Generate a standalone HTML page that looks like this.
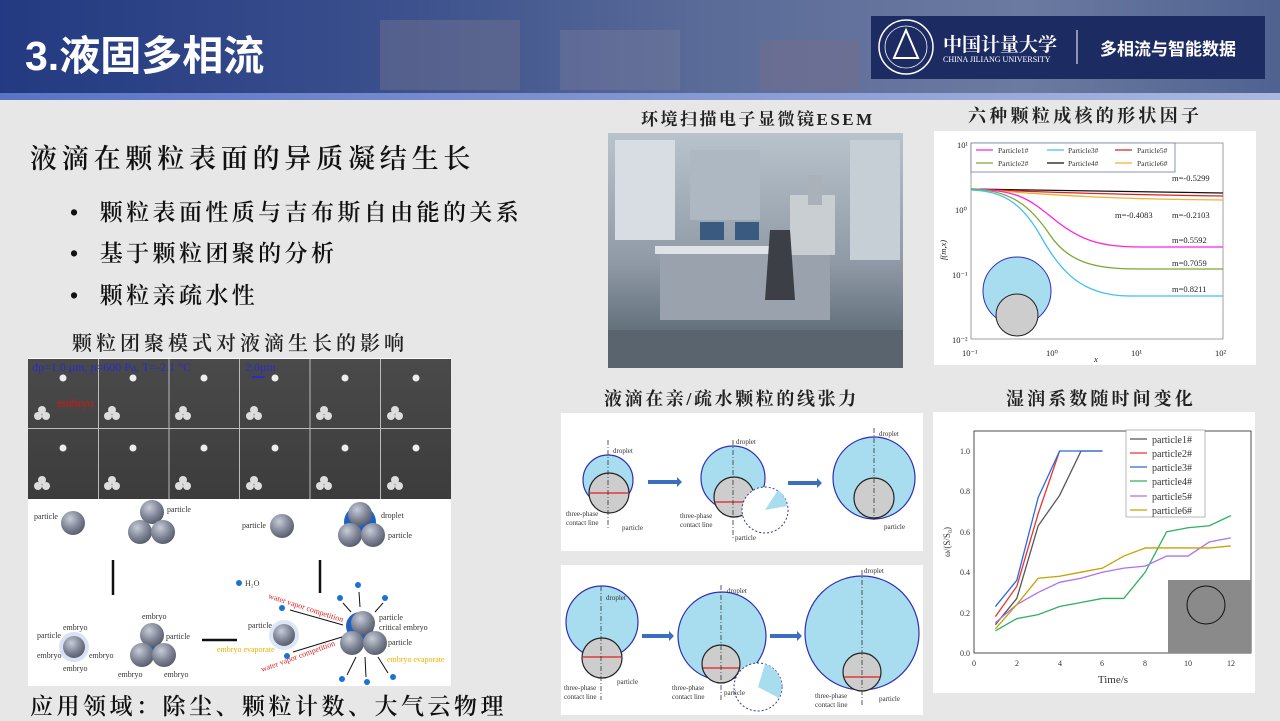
<!DOCTYPE html>
<html><head><meta charset="utf-8">
<style>
body{margin:0;width:1280px;height:720px;overflow:hidden;background:#e7e7e7;font-family:"Liberation Serif","Noto Serif CJK SC",serif;}
.a{position:absolute;white-space:nowrap}
.b{font-weight:600}
</style></head><body>
<svg width="1280" height="720" viewBox="0 0 1280 720" style="position:absolute;left:0;top:0" font-family="Liberation Serif, Noto Serif CJK SC, serif">
<defs>
<linearGradient id="hd" x1="0" x2="1" y1="0" y2="0">
<stop offset="0" stop-color="#233a82"/><stop offset="0.3" stop-color="#3a4f8c"/><stop offset="0.55" stop-color="#5a6b98"/><stop offset="0.8" stop-color="#6b7aa0"/><stop offset="1" stop-color="#4f6290"/></linearGradient>
<linearGradient id="st" x1="0" x2="1"><stop offset="0" stop-color="#5a74c4"/><stop offset="1" stop-color="#aab8e0"/></linearGradient>
<radialGradient id="sp" cx="0.38" cy="0.32" r="0.7"><stop offset="0" stop-color="#c8ccd8"/><stop offset="0.6" stop-color="#7f8596"/><stop offset="1" stop-color="#585d6c"/></radialGradient>
<linearGradient id="sem" x1="0" x2="0" y1="0" y2="1"><stop offset="0" stop-color="#4a4a4a"/><stop offset="1" stop-color="#3c3c3c"/></linearGradient>
<linearGradient id="room" x1="0" x2="0" y1="0" y2="1"><stop offset="0" stop-color="#b9c3cc"/><stop offset="0.55" stop-color="#8f9aa6"/><stop offset="1" stop-color="#4d5a66"/></linearGradient>
</defs>
<rect x="0" y="0" width="1280" height="93" fill="url(#hd)"/>
<rect x="380" y="20" width="140" height="70" fill="#6d6f8e" opacity="0.5"/>
<rect x="560" y="30" width="120" height="60" fill="#7a7d9c" opacity="0.4"/>
<rect x="760" y="40" width="100" height="50" fill="#7b6f88" opacity="0.4"/>
<rect x="0" y="93" width="1280" height="7" fill="url(#st)"/>
<rect x="871" y="16" width="394" height="63" fill="#1d2b63"/>
<circle cx="906" cy="47" r="27" fill="none" stroke="#fff" stroke-width="1.5"/>
<circle cx="906" cy="47" r="21" fill="none" stroke="#fff" stroke-width="0.8"/>
<path d="M906 30 L918 58 L894 58 Z" fill="none" stroke="#fff" stroke-width="2"/>
<line x1="1077" y1="30" x2="1077" y2="64" stroke="#fff" stroke-width="1"/>
<rect x="28" y="358" width="423" height="328" fill="#fff"/>
<rect x="28" y="359" width="423" height="140" fill="url(#sem)"/>
<g stroke="#bbb" stroke-width="1">
<line x1="98.5" y1="359" x2="98.5" y2="499"/><line x1="169" y1="359" x2="169" y2="499"/><line x1="239.5" y1="359" x2="239.5" y2="499"/><line x1="310" y1="359" x2="310" y2="499"/><line x1="380.5" y1="359" x2="380.5" y2="499"/><line x1="28" y1="428.5" x2="451" y2="428.5"/></g>
<g fill="#eee">
<circle cx="63" cy="378" r="3.5"/><circle cx="133" cy="378" r="3.5"/><circle cx="204" cy="378" r="3.5"/><circle cx="275" cy="378" r="3.5"/><circle cx="345" cy="378" r="3.5"/><circle cx="416" cy="378" r="3.5"/>
<circle cx="63" cy="448" r="3.5"/><circle cx="133" cy="448" r="3.5"/><circle cx="204" cy="448" r="3.5"/><circle cx="275" cy="448" r="3.5"/><circle cx="345" cy="448" r="3.5"/><circle cx="416" cy="448" r="3.5"/>
</g>
<g fill="#ddd">
<g transform="translate(42,414)"><circle cx="0" cy="-4" r="4"/><circle cx="-4" cy="2" r="4"/><circle cx="4" cy="2" r="4"/></g>
<g transform="translate(112,414)"><circle cx="0" cy="-4" r="4"/><circle cx="-4" cy="2" r="4"/><circle cx="4" cy="2" r="4"/></g>
<g transform="translate(183,414)"><circle cx="0" cy="-4" r="4"/><circle cx="-4" cy="2" r="4"/><circle cx="4" cy="2" r="4"/></g>
<g transform="translate(254,414)"><circle cx="0" cy="-4" r="4"/><circle cx="-4" cy="2" r="4"/><circle cx="4" cy="2" r="4"/></g>
<g transform="translate(324,414)"><circle cx="0" cy="-4" r="4"/><circle cx="-4" cy="2" r="4"/><circle cx="4" cy="2" r="4"/></g>
<g transform="translate(395,414)"><circle cx="0" cy="-4" r="4"/><circle cx="-4" cy="2" r="4"/><circle cx="4" cy="2" r="4"/></g>
<g transform="translate(42,484)"><circle cx="0" cy="-4" r="4"/><circle cx="-4" cy="2" r="4"/><circle cx="4" cy="2" r="4"/></g>
<g transform="translate(112,484)"><circle cx="0" cy="-4" r="4"/><circle cx="-4" cy="2" r="4"/><circle cx="4" cy="2" r="4"/></g>
<g transform="translate(183,484)"><circle cx="0" cy="-4" r="4"/><circle cx="-4" cy="2" r="4"/><circle cx="4" cy="2" r="4"/></g>
<g transform="translate(254,484)"><circle cx="0" cy="-4" r="4"/><circle cx="-4" cy="2" r="4"/><circle cx="4" cy="2" r="4"/></g>
<g transform="translate(324,484)"><circle cx="0" cy="-4" r="4"/><circle cx="-4" cy="2" r="4"/><circle cx="4" cy="2" r="4"/></g>
<g transform="translate(395,484)"><circle cx="0" cy="-4" r="4"/><circle cx="-4" cy="2" r="4"/><circle cx="4" cy="2" r="4"/></g>
</g>
<text x="32" y="371" font-size="12" fill="#2a2ad0">dp=1.0 μm, p=600 Pa, T=-2.1 °C</text>
<text x="245" y="371" font-size="12" fill="#2a2ad0">2.0μm</text>
<line x1="252" y1="377" x2="265" y2="377" stroke="#2a2ad0" stroke-width="2"/>
<text x="57" y="407" font-size="12" fill="#e01010">embryo</text>
<g>
<circle cx="360" cy="522" r="16" fill="#2060c0"/>
<circle cx="360" cy="626" r="14" fill="#2060c0"/>
<circle cx="152" cy="645" r="8" fill="#2060c0"/>
<circle cx="74" cy="647" r="15" fill="#d8e2f4"/>
<circle cx="284" cy="635" r="15" fill="#dde6f6"/>
</g>
<g fill="url(#sp)">
<circle cx="73" cy="523" r="12"/>
<circle cx="152" cy="512" r="12"/><circle cx="140" cy="532" r="12"/><circle cx="163" cy="532" r="12"/>
<circle cx="282" cy="526" r="12"/>
<circle cx="360" cy="514" r="12"/><circle cx="350" cy="535" r="12"/><circle cx="373" cy="535" r="12"/>
<circle cx="74" cy="647" r="11"/>
<circle cx="152" cy="635" r="12"/><circle cx="142" cy="655" r="12"/><circle cx="164" cy="655" r="12"/>
<circle cx="284" cy="635" r="11"/>
<circle cx="363" cy="623" r="12"/><circle cx="352" cy="643" r="12"/><circle cx="375" cy="643" r="12"/>
</g>
<g font-size="8" fill="#333">
<text x="34" y="519">particle</text><text x="167" y="512">particle</text>
<text x="242" y="528">particle</text><text x="381" y="518">droplet</text><text x="388" y="538">particle</text>
<text x="63" y="630">embryo</text><text x="37" y="638">particle</text><text x="37" y="658">embryo</text><text x="89" y="658">embryo</text><text x="63" y="671">embryo</text>
<text x="142" y="619">embryo</text><text x="166" y="639">particle</text><text x="118" y="677">embryo</text><text x="164" y="677">embryo</text>
<text x="248" y="628">particle</text><text x="379" y="620">particle</text><text x="379" y="630">critical embryo</text><text x="388" y="645">particle</text>
<text x="245" y="586">H₂O</text>
</g>
<text x="217" y="652" font-size="8" fill="#f0b000">embryo evaporate</text>
<text x="387" y="662" font-size="8" fill="#f0b000">embryo evaporate</text>
<text x="268" y="598" font-size="8" fill="#e02020" transform="rotate(18 268 598)">water vapor competition</text>
<text x="262" y="672" font-size="8" fill="#e02020" transform="rotate(-20 262 672)">water vapor competition</text>
<g fill="#1a73d0"><circle cx="239" cy="583" r="3"/><circle cx="282" cy="608" r="3"/><circle cx="287" cy="656" r="3"/><circle cx="340" cy="598" r="3"/><circle cx="358" cy="585" r="3"/><circle cx="385" cy="598" r="3"/><circle cx="342" cy="679" r="3"/><circle cx="367" cy="682" r="3"/><circle cx="393" cy="677" r="3"/></g>
<g stroke="#111" stroke-width="1"><line x1="290" y1="610" x2="343" y2="625"/><line x1="293" y1="652" x2="342" y2="637"/><line x1="359" y1="592" x2="360" y2="607"/><line x1="343" y1="603" x2="351" y2="612"/><line x1="383" y1="603" x2="375" y2="612"/><line x1="347" y1="675" x2="356" y2="657"/><line x1="366" y1="677" x2="365" y2="657"/><line x1="388" y1="673" x2="378" y2="657"/></g>
<g stroke="#111" stroke-width="2.5"><line x1="113" y1="560" x2="113" y2="595"/><line x1="320" y1="560" x2="320" y2="593"/><line x1="202" y1="640" x2="237" y2="640"/></g>
<rect x="608" y="133" width="295" height="235" fill="url(#room)"/>
<rect x="615" y="140" width="60" height="100" fill="#d7dde2"/>
<rect x="690" y="150" width="70" height="70" fill="#aeb8c2"/>
<rect x="850" y="140" width="50" height="120" fill="#c6ced6"/>
<rect x="660" y="250" width="170" height="70" fill="#9aa3ad"/>
<rect x="655" y="246" width="180" height="8" fill="#dfe3e7"/>
<rect x="700" y="222" width="24" height="18" fill="#3a5a80"/><rect x="735" y="222" width="24" height="18" fill="#3a5a80"/>
<rect x="790" y="195" width="45" height="60" fill="#c9ced3"/><rect x="808" y="175" width="14" height="30" fill="#aab1b8"/>
<path d="M770 230 L790 230 L795 300 L765 300 Z" fill="#3c3f45"/>
<rect x="608" y="330" width="295" height="38" fill="#5a646e"/>
<rect x="561" y="413" width="362" height="138" fill="#fff"/>
<rect x="561" y="565" width="362" height="150" fill="#fff"/>
<g stroke="#2f2fb5" stroke-width="1.2" fill="#a8dcef">
<circle cx="608" cy="480" r="25"/><circle cx="733" cy="478" r="32"/><circle cx="874" cy="478" r="41"/>
<circle cx="602" cy="622" r="36"/>
<circle cx="722" cy="636" r="44"/>
<circle cx="862" cy="633" r="57"/>
</g>
<g fill="#cdcdcd" stroke="#222" stroke-width="1.2">
<circle cx="609" cy="493" r="20"/><circle cx="734" cy="497" r="20"/><circle cx="874" cy="498" r="20"/>
<circle cx="602" cy="658" r="20"/><circle cx="721" cy="664" r="19"/><circle cx="862" cy="672" r="19"/>
</g>
<g stroke="#e02020" stroke-width="1.2"><line x1="590" y1="493" x2="628" y2="493"/><line x1="715" y1="502" x2="753" y2="502"/><line x1="583" y1="657" x2="621" y2="657"/><line x1="703" y1="668" x2="739" y2="668"/><line x1="844" y1="677" x2="880" y2="677"/></g>
<g stroke="#333" stroke-width="0.8" stroke-dasharray="5,2,1,2"><line x1="608" y1="440" x2="608" y2="530"/><line x1="733" y1="440" x2="733" y2="540"/><line x1="874" y1="428" x2="874" y2="520"/><line x1="601" y1="586" x2="601" y2="700"/><line x1="721" y1="585" x2="721" y2="700"/><line x1="862" y1="570" x2="862" y2="705"/></g>
<circle cx="765" cy="510" r="23" fill="#fff" stroke="#2f3f8f" stroke-dasharray="2,2"/>
<path d="M765 510 L778 490 A23 23 0 0 1 787 506 Z" fill="#a8dcef"/>
<circle cx="758" cy="687" r="24" fill="#fff" stroke="#2f3f8f" stroke-dasharray="2,2"/>
<path d="M758 687 L765 664 A24 24 0 0 1 779 698 Z" fill="#a8dcef"/>
<g fill="#3a6fbf"><path d="M648 480 H677 V477 L682 482 L677 487 V484 H648 Z"/><path d="M788 481 H817 V478 L822 483 L817 488 V485 H788 Z"/><path d="M642 634 H669 V631 L674 636 L669 641 V638 H642 Z"/><path d="M770 634 H797 V631 L802 636 L797 641 V638 H770 Z"/></g>
<g font-size="7" fill="#333">
<text x="613" y="453">droplet</text><text x="736" y="444">droplet</text><text x="879" y="436">droplet</text>
<text x="566" y="516">three-phase</text><text x="566" y="525">contact line</text><text x="622" y="530">particle</text>
<text x="680" y="518">three-phase</text><text x="680" y="527">contact line</text><text x="735" y="540">particle</text><text x="884" y="529">particle</text>
<text x="606" y="600">droplet</text><text x="727" y="593">droplet</text><text x="864" y="573">droplet</text>
<text x="564" y="690">three-phase</text><text x="564" y="699">contact line</text><text x="617" y="684">particle</text>
<text x="672" y="690">three-phase</text><text x="672" y="699">contact line</text><text x="724" y="695">particle</text>
<text x="815" y="698">three-phase</text><text x="815" y="707">contact line</text><text x="879" y="701">particle</text>
</g>
<rect x="934" y="131" width="322" height="234" fill="#fff"/>
<rect x="971" y="143" width="252" height="196" fill="none" stroke="#888" stroke-width="0.8"/>
<rect x="971" y="143" width="204" height="29" fill="#fff" stroke="#6a7aa0" stroke-width="0.8"/>
<g stroke-width="1.3" fill="none">
<path d="M971 189 C1020 190 1080 191 1223 193" stroke="#111"/>
<path d="M971 189 C1020 191 1080 194 1223 196" stroke="#e02020"/>
<path d="M971 189 C1020 192 1080 199 1223 200" stroke="#f0b030"/>
<path d="M971 189 C1020 190 1030 200 1055 220 S1100 247 1140 247 L1223 247" stroke="#ff22dd"/>
<path d="M971 189 C1010 190 1030 205 1050 235 S1100 269 1140 269 L1223 269" stroke="#7aaa30"/>
<path d="M971 190 C1000 191 1020 200 1040 235 S1080 296 1130 296 L1223 296" stroke="#40c0f0"/>
<line x1="976" y1="150" x2="993" y2="150" stroke="#ff22dd"/><line x1="976" y1="163" x2="993" y2="163" stroke="#7aaa30"/>
<line x1="1047" y1="150" x2="1064" y2="150" stroke="#40c0f0"/><line x1="1047" y1="163" x2="1064" y2="163" stroke="#111"/>
<line x1="1115" y1="150" x2="1132" y2="150" stroke="#e02020"/><line x1="1115" y1="163" x2="1132" y2="163" stroke="#f0b030"/>
</g>
<circle cx="1017" cy="291" r="34" fill="#a8dcef" stroke="#2f2fb5"/>
<circle cx="1017" cy="315" r="21" fill="#cdcdcd" stroke="#222"/>
<g font-size="7.5" fill="#333"><text x="998" y="153">Particle1#</text><text x="998" y="166">Particle2#</text><text x="1068" y="153">Particle3#</text><text x="1068" y="166">Particle4#</text><text x="1137" y="153">Particle5#</text><text x="1137" y="166">Particle6#</text></g>
<g font-size="8.5" fill="#222"><text x="1172" y="181">m=-0.5299</text><text x="1115" y="218">m=-0.4083</text><text x="1172" y="218">m=-0.2103</text><text x="1172" y="243">m=0.5592</text><text x="1172" y="266">m=0.7059</text><text x="1172" y="292">m=0.8211</text>
<text x="957" y="148">10¹</text><text x="955" y="213">10⁰</text><text x="952" y="278">10⁻¹</text><text x="952" y="343">10⁻²</text>
<text x="962" y="356">10⁻¹</text><text x="1046" y="356">10⁰</text><text x="1131" y="356">10¹</text><text x="1215" y="356">10²</text>
<text x="1094" y="362" font-style="italic">x</text>
<text x="946" y="260" font-style="italic" transform="rotate(-90 946 260)">f(m,x)</text></g>
<rect x="933" y="412" width="322" height="281" fill="#fff"/>
<rect x="974" y="431" width="277" height="222" fill="none" stroke="#222" stroke-width="0.8"/>
<rect x="1168" y="580" width="83" height="73" fill="#8a8a8a"/>
<circle cx="1206" cy="605" r="19" fill="none" stroke="#111" stroke-width="1"/>
<rect x="1126" y="430" width="79" height="87" fill="#fff" stroke="#888" stroke-width="0.6"/>
<g transform="translate(974 653) scale(21.4 -202)" fill="none" stroke-width="1.3">
<polyline vector-effect="non-scaling-stroke" stroke="#555" points="1,.14 2,.27 3,.63 4,.78 5,1 6,1"/>
<polyline vector-effect="non-scaling-stroke" stroke="#f03030" points="1,.18 2,.33 3,.69 4,1"/>
<polyline vector-effect="non-scaling-stroke" stroke="#2a6ae0" points="1,.23 2,.36 3,.77 4,1 5,1 6,1"/>
<polyline vector-effect="non-scaling-stroke" stroke="#30b060" points="1,.11 2,.17 3,.19 4,.23 5,.25 6,.27 7,.27 8,.4 9,.6 10,.62 11,.63 12,.68"/>
<polyline vector-effect="non-scaling-stroke" stroke="#b070f0" points="1,.15 2,.24 3,.3 4,.35 5,.37 6,.4 7,.42 8,.43 9,.48 10,.48 11,.55 12,.57"/>
<polyline vector-effect="non-scaling-stroke" stroke="#c8a000" points="1,.12 2,.24 3,.37 4,.38 5,.4 6,.42 7,.48 8,.52 9,.52 10,.52 11,.52 12,.53"/>
</g>
<g stroke-width="1.3"><line x1="1130" y1="439" x2="1147" y2="439" stroke="#555"/><line x1="1130" y1="453" x2="1147" y2="453" stroke="#f03030"/><line x1="1130" y1="467" x2="1147" y2="467" stroke="#2a6ae0"/><line x1="1130" y1="481" x2="1147" y2="481" stroke="#30b060"/><line x1="1130" y1="496" x2="1147" y2="496" stroke="#b070f0"/><line x1="1130" y1="510" x2="1147" y2="510" stroke="#c8a000"/></g>
<g font-size="10" fill="#333"><text x="1152" y="443">particle1#</text><text x="1152" y="457">particle2#</text><text x="1152" y="471">particle3#</text><text x="1152" y="485">particle4#</text><text x="1152" y="500">particle5#</text><text x="1152" y="514">particle6#</text></g>
<g font-size="8" fill="#333" text-anchor="end"><text x="970" y="656">0.0</text><text x="970" y="616">0.2</text><text x="970" y="575">0.4</text><text x="970" y="535">0.6</text><text x="970" y="494">0.8</text><text x="970" y="454">1.0</text></g>
<g font-size="8" fill="#333" text-anchor="middle"><text x="974" y="666">0</text><text x="1017" y="666">2</text><text x="1060" y="666">4</text><text x="1102" y="666">6</text><text x="1145" y="666">8</text><text x="1188" y="666">10</text><text x="1231" y="666">12</text></g>
<text x="1113" y="683" font-size="11" fill="#333" text-anchor="middle">Time/s</text>
<text x="950" y="542" font-size="9" fill="#333" text-anchor="middle" transform="rotate(-90 950 542)">ω/(S/S₀)</text>
</svg>
<div class="a" style="left:25px;top:22px;font:bold 41px 'Liberation Sans','Noto Sans CJK SC',sans-serif;color:#fff">3.液固多相流</div>
<div class="a" style="left:943px;top:30px;font:bold 19px 'Noto Serif CJK SC',serif;color:#fff;letter-spacing:0px">中国计量大学</div>
<div class="a" style="left:943px;top:55px;font:8px 'Liberation Serif',serif;color:#fff">CHINA JILIANG UNIVERSITY</div>
<div class="a" style="left:1100px;top:35px;font:bold 17px 'Liberation Sans','Noto Sans CJK SC',sans-serif;color:#fff">多相流与智能数据</div>
<div class="a b" style="left:30px;top:137px;font-size:27px;color:#111;letter-spacing:4.8px">液滴在颗粒表面的异质凝结生长</div>
<div class="a b" style="left:70px;top:194px;font-size:23px;color:#111;letter-spacing:3.4px">•&nbsp;&nbsp;颗粒表面性质与吉布斯自由能的关系</div>
<div class="a b" style="left:70px;top:235px;font-size:23px;color:#111;letter-spacing:3.4px">•&nbsp;&nbsp;基于颗粒团聚的分析</div>
<div class="a b" style="left:70px;top:277px;font-size:23px;color:#111;letter-spacing:3.4px">•&nbsp;&nbsp;颗粒亲疏水性</div>
<div class="a b" style="left:72px;top:327px;font-size:20px;color:#222;letter-spacing:4px">颗粒团聚模式对液滴生长的影响</div>
<div class="a b" style="left:30px;top:688px;font-size:23px;color:#111;letter-spacing:3.5px">应用领域：除尘、颗粒计数、大气云物理</div>
<div class="a" style="left:641px;top:105px;font-weight:bold;font-size:17px;color:#222;letter-spacing:2.5px">环境扫描电子显微镜ESEM</div>
<div class="a" style="left:968px;top:102px;font-weight:bold;font-size:18px;color:#222;letter-spacing:3.3px">六种颗粒成核的形状因子</div>
<div class="a" style="left:604px;top:385px;font-weight:bold;font-size:18px;color:#222;letter-spacing:2.6px">液滴在亲/疏水颗粒的线张力</div>
<div class="a" style="left:1006px;top:385px;font-weight:bold;font-size:18px;color:#222;letter-spacing:3.1px">湿润系数随时间变化</div>
</body></html>
